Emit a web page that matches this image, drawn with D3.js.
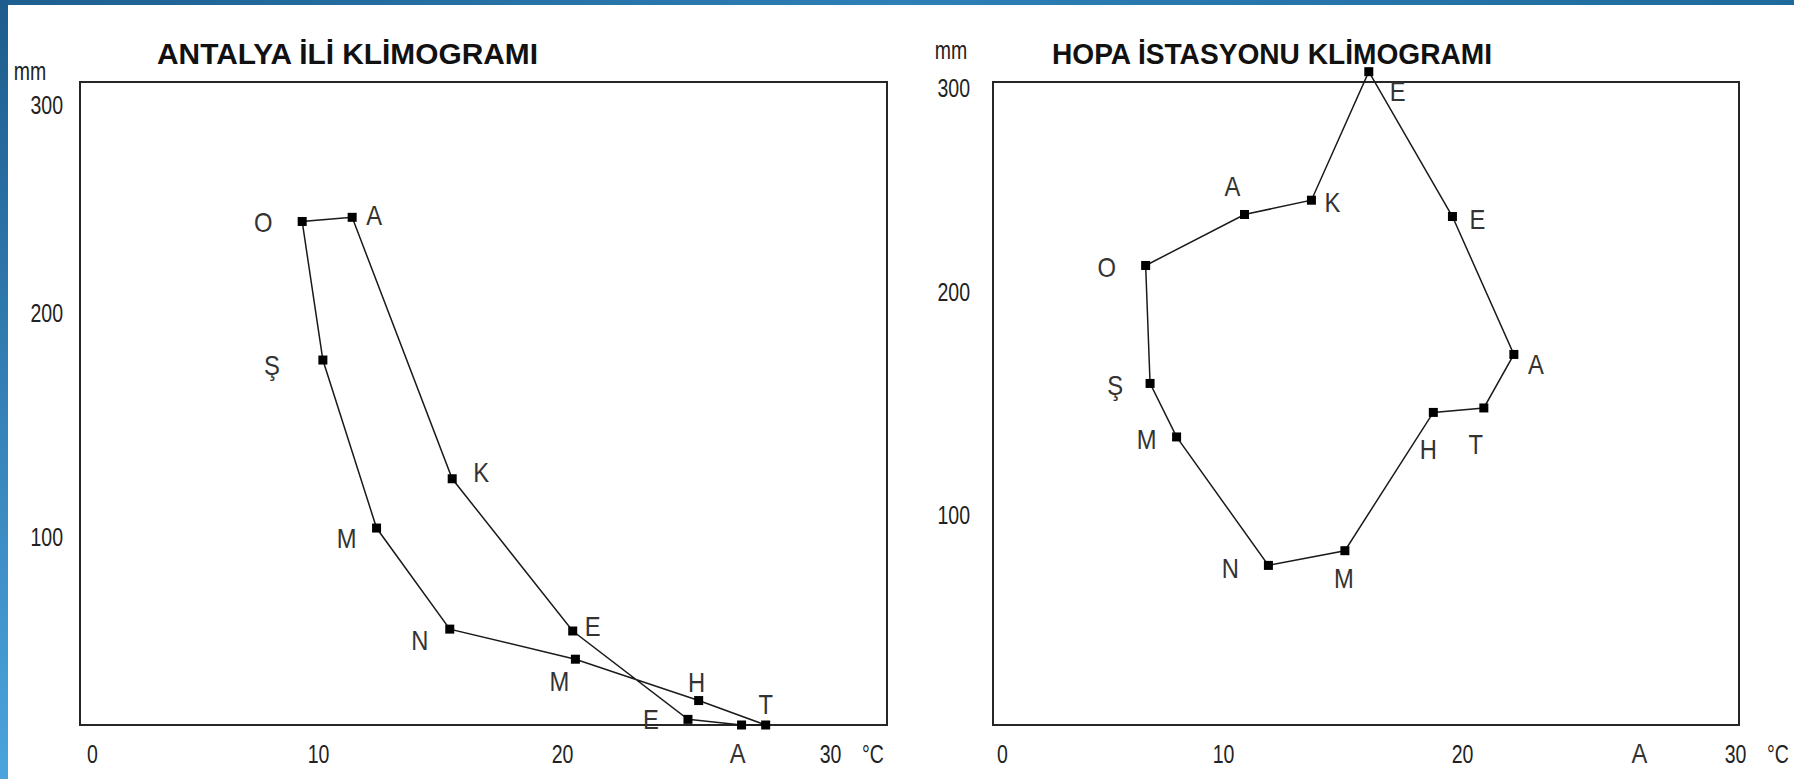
<!DOCTYPE html>
<html>
<head>
<meta charset="utf-8">
<script src="https://cdn.jsdelivr.net/npm/d3@7"></script>
<style>
  html, body { margin: 0; padding: 0; background: #fff; overflow: hidden; }
  svg { display: block; }
</style>
</head>
<body>
<svg id="chart" width="1794" height="779"></svg>
<script>
// Month initials (Turkish), January → December
const months = ["O", "Ş", "M", "N", "M", "H", "T", "A", "E", "E", "K", "A"];

// Antalya: monthly mean temperature (°C) and precipitation (mm)
const antalyaTemp = [9.3, 10.2, 12.4, 15.4, 20.5, 25.1, 27.6, 26.7, 24.7, 20.4, 15.5, 11.4];
const antalyaRain = [244, 179, 104, 51, 35, 13, 0, 0, 3, 50, 126, 246];

// Hopa station: monthly mean temperature (°C) and precipitation (mm)
const hopaTemp = [6.5, 6.7, 7.9, 11.9, 15.1, 18.8, 20.8, 21.9, 19.6, 16.1, 13.7, 10.9];
const hopaRain = [213, 159, 135, 76, 83, 146, 148, 172, 237, 308, 245, 238];

// Axis tick values
const tempTicks = [0, 10, 20, 30];
const rainTicks = [100, 200, 300];

// Panel layout (pixel geometry of each hand-ruled frame and its tick marks)
const panels = [
  {
    title: "ANTALYA İLİ KLİMOGRAMI",
    temp: antalyaTemp, rain: antalyaRain,
    frame: { x0: 80, x1: 887, y0: 82, y1: 725 },
    xRange: [92, 318, 562, 830],
    yRange: [725, 537, 313, 105],
    titleX: 157, titleW: 381,
    mm: [30, 71],
    yPad: 17,
    extraLetter: null,
    labelOffsets: [[-39, 1], [-51, 5], [-30, 10], [-30, 11], [-16, 22], [-2, -18],
                   [0, -21], [-4, 28], [-37, 0], [20, -5], [29, -6], [22, -2]]
  },
  {
    title: "HOPA İSTASYONU KLİMOGRAMI",
    temp: hopaTemp, rain: hopaRain,
    frame: { x0: 993, x1: 1739, y0: 82, y1: 725 },
    xRange: [1002, 1223, 1462, 1735],
    yRange: [725, 515, 292, 88],
    titleX: 1052, titleW: 440,
    mm: [951, 50],
    yPad: 23,
    extraLetter: { t: 26.5, text: "A" },
    labelOffsets: [[-39, 2], [-35, 2], [-30, 2], [-38, 3], [-1, 28], [-5, 37],
                   [-8, 36], [22, 10], [25, 3], [29, 20], [21, 2], [-12, -28]]
  }
];

const FONT = "'Liberation Sans', Arial, sans-serif";
const TEXT_SX = 0.78;   // narrow glyphs
const TICK_SIZE = 25;

const svg = d3.select("#chart");

// Page background with blue edge bands
const defs = svg.append("defs");
const gv = defs.append("linearGradient").attr("id", "edgeV")
  .attr("x1", 0).attr("y1", 0).attr("x2", 0).attr("y2", 1);
gv.append("stop").attr("offset", "0%").attr("stop-color", "#1d5c8c");
gv.append("stop").attr("offset", "100%").attr("stop-color", "#4ba4dd");
const gh = defs.append("linearGradient").attr("id", "edgeH")
  .attr("x1", 0).attr("y1", 0).attr("x2", 1).attr("y2", 0);
gh.append("stop").attr("offset", "0%").attr("stop-color", "#1e5f90");
gh.append("stop").attr("offset", "50%").attr("stop-color", "#2d7fb6");
gh.append("stop").attr("offset", "100%").attr("stop-color", "#1f6a9c");

svg.append("rect").attr("width", 1794).attr("height", 779).attr("fill", "#fff");
svg.append("rect").attr("x", 0).attr("y", 0).attr("width", 1794).attr("height", 5).attr("fill", "url(#edgeH)");
svg.append("rect").attr("x", 0).attr("y", 0).attr("width", 8).attr("height", 779).attr("fill", "url(#edgeV)");

function narrowText(sel, x, y, str, size, opts = {}) {
  return sel.append("text")
    .attr("transform", `translate(${x},${y}) scale(${opts.sx || TEXT_SX},1)`)
    .attr("text-anchor", opts.anchor || "middle")
    .attr("dy", "0.36em")
    .attr("font-family", FONT)
    .attr("font-size", size)
    .attr("fill", opts.fill || "#222")
    .text(str);
}

panels.forEach(p => {
  const g = svg.append("g");

  const x = d3.scaleLinear().domain(tempTicks).range(p.xRange);
  const y = d3.scaleLinear().domain([0, ...rainTicks]).range(p.yRange);

  // Frame
  g.append("rect")
    .attr("x", p.frame.x0).attr("y", p.frame.y0)
    .attr("width", p.frame.x1 - p.frame.x0)
    .attr("height", p.frame.y1 - p.frame.y0)
    .attr("fill", "none").attr("stroke", "#262626").attr("stroke-width", 2);

  // Title
  g.append("text")
    .attr("x", p.titleX).attr("y", 64)
    .attr("font-family", FONT).attr("font-weight", "bold").attr("font-size", 29)
    .attr("textLength", p.titleW).attr("lengthAdjust", "spacingAndGlyphs")
    .attr("fill", "#111")
    .text(p.title);

  // Unit of the vertical axis
  narrowText(g, p.mm[0], p.mm[1], "mm", TICK_SIZE);

  // Precipitation axis labels
  const yAxis = g.append("g")
    .attr("transform", `translate(${p.frame.x0},0)`)
    .call(d3.axisLeft(y).tickValues(rainTicks).tickSize(0).tickPadding(p.yPad));
  yAxis.select(".domain").remove();
  yAxis.selectAll("text")
    .attr("font-family", FONT).attr("font-size", TICK_SIZE).attr("fill", "#222")
    .attr("x", -p.yPad / TEXT_SX)
    .attr("transform", `scale(${TEXT_SX},1)`);

  // Temperature axis labels
  const xAxis = g.append("g")
    .attr("transform", `translate(0,${p.frame.y1})`)
    .call(d3.axisBottom(x).tickValues(tempTicks).tickSize(0).tickPadding(20));
  xAxis.select(".domain").remove();
  xAxis.selectAll(".tick text")
    .attr("font-family", FONT).attr("font-size", TICK_SIZE).attr("fill", "#222")
    .attr("transform", `scale(${TEXT_SX},1)`);
  narrowText(g, x(30) + 43, p.frame.y1 + 29, "°C", TICK_SIZE);

  if (p.extraLetter) {
    narrowText(g, x(p.extraLetter.t), p.frame.y1 + 28, p.extraLetter.text, 27, { sx: 0.88, fill: "#333" });
  }

  // Climogram polygon
  const pts = months.map((m, i) => ({ m, t: p.temp[i], r: p.rain[i], off: p.labelOffsets[i] }));
  const line = d3.line().x(d => x(d.t)).y(d => y(d.r)).curve(d3.curveLinearClosed);
  g.append("path")
    .attr("d", line(pts))
    .attr("fill", "none").attr("stroke", "#1a1a1a").attr("stroke-width", 1.5)
    .attr("stroke-linejoin", "miter");

  // Month markers
  g.selectAll("rect.pt").data(pts).enter().append("rect")
    .attr("class", "pt")
    .attr("x", d => x(d.t) - 4.5).attr("y", d => y(d.r) - 4.5)
    .attr("width", 9).attr("height", 9).attr("fill", "#000");

  // Month initials
  pts.forEach(d => {
    narrowText(g, x(d.t) + d.off[0], y(d.r) + d.off[1], d.m, 27, { sx: 0.88, fill: "#333" });
  });
});
</script>
</body>
</html>
